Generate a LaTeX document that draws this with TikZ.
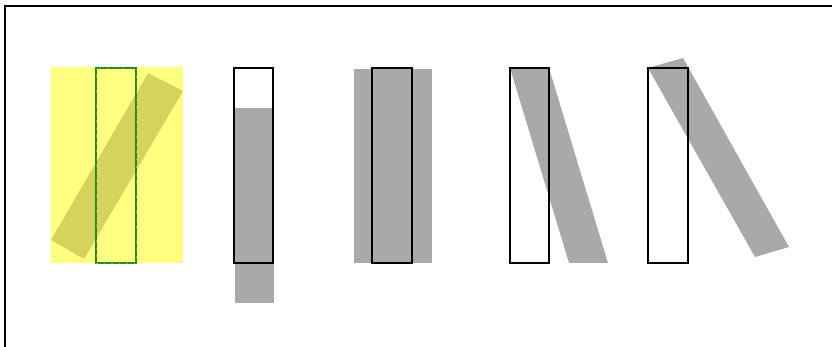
\documentclass[tikz,border=0pt]{standalone}
\definecolor{shadegray}{RGB}{169,169,169}
\definecolor{paleyellow}{RGB}{255,255,128}
\definecolor{olive2}{RGB}{212,212,92}
\definecolor{boxgreen}{RGB}{34,139,34}
\definecolor{dashorange}{RGB}{205,140,40}
\tikzset{
  shade/.style={fill=shadegray, draw=none},
  outlinebox/.style={draw=black, line width=1.3pt},
  frameline/.style={draw=black, line width=2pt},
}
\begin{document}
\begin{tikzpicture}[x=1pt,y=-1pt]
\useasboundingbox (0,0) rectangle (832,347);
% frame
\draw[frameline] (5,347) -- (5,6) -- (832,6);
% panel 1
\fill[paleyellow] (51,67) rectangle (183,263);
\fill[olive2] (148,73) -- (183,91) -- (84,259) -- (51,240) -- cycle;
\draw[boxgreen, line width=1.4pt] (96,68) rectangle (136,263);
\draw[dashorange, line width=0.5pt, dash pattern=on 1.5pt off 6pt] (96,68) rectangle (136,263);
% panel 2
\fill[shade] (235,108) rectangle (274,303);
\draw[outlinebox] (234,68) rectangle (273,263);
% panel 3
\fill[shade] (354,69) rectangle (432,263);
\draw[outlinebox] (372,68) rectangle (412,263);
% panel 4
\fill[shade] (510,68) -- (549,68) -- (608,263) -- (569,263) -- cycle;
\draw[outlinebox] (510,68) rectangle (549,263);
% panel 5
\fill[shade] (648,68) -- (683,58) -- (789,247) -- (755,257) -- cycle;
\draw[outlinebox] (648,68) rectangle (688,263);
\end{tikzpicture}
\end{document}
